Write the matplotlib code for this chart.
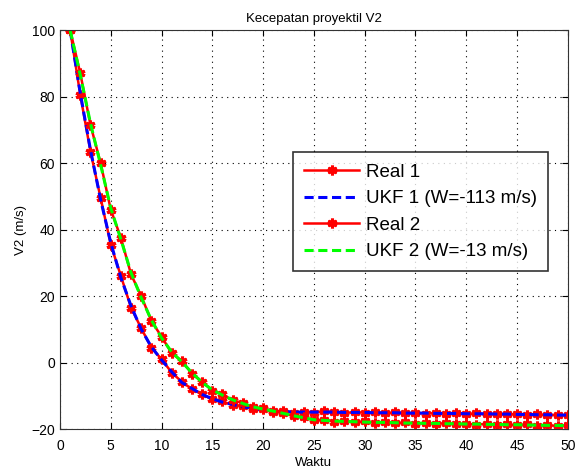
import numpy as np
import matplotlib
matplotlib.use("Agg")
import matplotlib.pyplot as plt

plt.rcParams['font.family'] = ['Liberation Sans', 'DejaVu Sans']

waktu = list(range(1, 51))

ukf1 = [100, 81, 64, 49, 36, 25.5, 17, 10, 4.7, 0.8,
        -2.8, -6, -7.8, -9.6, -10.9, -11.9, -12.6, -13.3, -13.8, -14.2,
        -14.5, -14.7, -14.9, -14.9, -14.9, -14.9, -14.9, -15.0, -15.0, -15.0,
        -15.1, -15.1, -15.1, -15.2, -15.2, -15.2, -15.3, -15.3, -15.3, -15.4,
        -15.4, -15.4, -15.5, -15.5, -15.6, -15.6, -15.7, -15.7, -15.8, -15.8]
real1 = [100, 80.5, 63.5, 49.5, 35.5, 26, 16.5, 10.3, 4.5, 1.0,
         -3.0, -5.8, -8.0, -9.4, -11.1, -11.7, -12.8, -13.1, -13.9, -14.1,
         -14.7, -14.5, -15.1, -14.8, -15.1, -14.7, -15.0, -15.2, -14.9, -15.1,
         -15.0, -15.3, -15.0, -15.3, -15.1, -15.4, -15.2, -15.4, -15.2, -15.5,
         -15.3, -15.6, -15.4, -15.6, -15.5, -15.7, -15.6, -15.8, -15.7, -15.9]

ukf2 = [100, 86.5, 72, 59.5, 46.5, 37, 27, 19.5, 12.8, 7.4,
        3.2, 0.2, -3.1, -6, -8.2, -9.8, -11.2, -12.3, -13.3, -14,
        -14.6, -15.3, -16, -16.6, -17.2, -17.4, -17.6, -17.7, -17.8, -17.9,
        -18.0, -18.0, -18.1, -18.2, -18.2, -18.3, -18.3, -18.4, -18.4, -18.5,
        -18.5, -18.6, -18.6, -18.7, -18.7, -18.8, -18.8, -18.9, -18.9, -19.0]
real2 = [100, 87, 71.5, 60, 46, 37.5, 26.5, 20, 12.5, 7.8,
         2.8, 0.5, -3.4, -5.7, -8.5, -9.6, -11.4, -12.1, -13.5, -13.8,
         -14.8, -15.1, -16.2, -16.4, -17.4, -17.2, -17.8, -17.5, -18.0, -17.7,
         -18.2, -17.9, -18.3, -18.0, -18.4, -18.1, -18.5, -18.2, -18.6, -18.4,
         -18.7, -18.4, -18.8, -18.6, -18.9, -18.6, -19.0, -18.8, -19.1, -18.9]

fig = plt.figure(figsize=(5.77, 4.72), dpi=100)
ax = fig.add_axes([0.104, 0.091, 0.880, 0.845])

star = (6, 2, 0)
ax.plot(waktu, real1, color='red', lw=1.8, marker=star, ms=7, mew=2.2, label='Real 1')
ax.plot(waktu, ukf1, color='blue', lw=2.2, ls=(0, (3, 1.5)), label='UKF 1 (W=-113 m/s)')
ax.plot(waktu, real2, color='red', lw=1.8, marker=star, ms=7, mew=2.2, label='Real 2')
ax.plot(waktu, ukf2, color='#00ff00', lw=2.2, ls=(0, (3, 1.5)), label='UKF 2 (W=-13 m/s)')

ax.set_xlim(0, 50)
ax.set_ylim(-20, 100)
ax.set_xticks(np.arange(0, 51, 5))
ax.set_yticks(np.arange(-20, 101, 20))
ax.grid(True, color='black', ls=(0, (1, 4)), lw=0.8)
ax.tick_params(direction='in', top=True, right=True, labelsize=10, length=4)
ax.tick_params(axis='x', pad=7)
for s in ax.spines.values():
    s.set_color('#333333')

ax.set_title('Kecepatan proyektil V2', fontsize=9.5)
ax.set_xlabel('Waktu', fontsize=9.5, labelpad=3)
ax.set_ylabel('V2 (m/s)', fontsize=9.5, labelpad=3)

leg = ax.legend(loc='upper left', bbox_to_anchor=(0.459, 0.694), borderaxespad=0,
                fontsize=13.5, frameon=True, fancybox=False, edgecolor='black',
                handlelength=2.9, borderpad=0.6, labelspacing=0.5, handletextpad=0.4)
leg.get_frame().set_linewidth(1.2)

fig.savefig('out.png', dpi=100)
